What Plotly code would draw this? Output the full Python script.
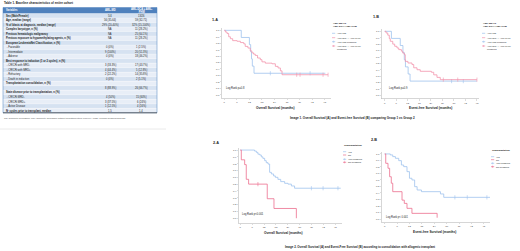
import plotly.graph_objects as go

W, H = 520, 251

# ---------------- Table data ----------------
tbl_title = "Table 1. Baseline characteristics of entire cohort"
col_headers = ["Variables", "AML-MD", "AML-DCA + AML-<br>PHM"]
row_labels = [
    "<b>Sex (Male/Female)</b>",
    "<b>Age, median (range)</b>",
    "<b>% of blasts at diagnosis, median (range)</b>",
    "<b>Complex karyotype, n (%)</b>",
    "<b>Previous hematologic malignancy</b>",
    "<b>Previous exposure to hypomethylating agents, n (%)</b>",
    "<b>European LeukemiaNet Classification, n (%)</b>",
    " - Favorable",
    " - Intermediate",
    " - Adverse",
    "<b>Best response to induction (1 or 2 cycles), n (%)</b>",
    " - CR/CRi with MRD-",
    " - CR/CRi with MRD+",
    " - Refractory",
    " - Death in induction",
    "<b>Transplantation consolidation, n (%)</b>",
    "",
    "<b>State disease prior to transplantation, n (%)</b>",
    " - CR/CRi MRD-",
    " - CR/CRi MRD+",
    " - Active Disease",
    "<b>Nº cycles prior to transplant, median</b>",
]
col_md = ["5/4", "56 (35-64)", "29% (20-40%)", "NA", "NA", "NA", "", "0 (0%)", "9 (100%)", "0 (0%)", "",
          "3 (33.3%)", "4 (44.4%)", "2 (22.2%)", "0 (0%)", "", "8 (88.9%)", "", "4 (50%)", "3 (37.5%)",
          "1 (12.5%)", "1.5"]
col_dca = ["13/26", "59 (32-71)", "32% (15-100%)", "11 (28.2%)", "25 (64.1%)", "11 (28.2%)", "", "1 (2.5%)",
           "20 (51.3%)", "18 (46.2%)", "", "17 (43.7%)", "5 (12.8%)", "14 (35.8%)", "2 (5.1%)", "",
           "26 (66.7%)", "", "15 (60%)", "6 (24%)", "4 (16%)", "1.4"]
footnote = "CR: Complete Remission; CRi: Complete Remission without hematopoietical recovery; MRD: Minimal Residual Disease"

# ---------------- KM data ----------------
# 1.A Overall survival, AML-MD vs AML-DCA + AML-PHM
os1_md_t = [0, 8.1, 12.0, 12.6, 13.0, 13.4, 14.2, 48.3]
os1_md_s = [1.0, 0.889, 0.778, 0.667, 0.556, 0.444, 0.333, 0.333]
os1_md_cens_t = [22.0, 41.0]
os1_md_cens_s = [0.333, 0.333]
os1_dca_t = [0, 0.5, 1.3, 2.1, 2.9, 4.0, 6.1, 7.7, 9.3, 10.0, 11.3, 12.4, 13.2, 14.0, 14.8, 15.9, 17.2, 18.0,
             19.6, 22.8, 24.4, 25.7, 26.8, 27.6, 49.6]
os1_dca_s = [1.0, 0.974, 0.95, 0.90, 0.87, 0.84, 0.83, 0.81, 0.79, 0.75, 0.725, 0.68, 0.65, 0.63, 0.61, 0.57,
             0.544, 0.51, 0.49, 0.48, 0.44, 0.415, 0.37, 0.31, 0.31]
os1_dca_cens_t = [34.6, 36.2, 47.2, 49.6]
os1_dca_cens_s = [0.31, 0.31, 0.31, 0.31]

# 1.B Event-free survival
efs1_md_t = [0, 3.5, 8.1, 9.5, 10.2, 10.8, 12.2, 13.2, 48.0]
efs1_md_s = [1.0, 0.889, 0.778, 0.667, 0.556, 0.444, 0.333, 0.222, 0.222]
efs1_md_cens_t = [34.8, 40.9]
efs1_md_cens_s = [0.222, 0.222]
efs1_dca_t = [0, 0.7, 1.6, 2.4, 2.9, 4.2, 5.2, 6.4, 7.3, 8.7, 9.4, 10.2, 10.7, 12.1, 14.2, 15.1, 16.8, 18.5,
              24.3, 25.5, 27.2, 28.9, 48.0]
efs1_dca_s = [1.0, 0.974, 0.94, 0.885, 0.844, 0.80, 0.766, 0.74, 0.714, 0.69, 0.66, 0.635, 0.53, 0.505, 0.48,
              0.43, 0.40, 0.375, 0.36, 0.32, 0.28, 0.245, 0.245]
efs1_dca_cens_t = [30.5, 38.0, 48.0]
efs1_dca_cens_s = [0.245, 0.245, 0.245]

# 2.A Overall survival by transplantation
os2_yes_t = [0, 7.2, 8.1, 8.9, 9.8, 10.6, 11.4, 12.3, 13.1, 14.0, 14.8, 15.7, 16.8, 17.7, 19.0, 20.4, 22.4,
             24.1, 25.8, 27.4, 50.7]
os2_yes_s = [1.0, 0.985, 0.966, 0.94, 0.927, 0.90, 0.878, 0.844, 0.815, 0.795, 0.673, 0.649, 0.62, 0.60,
             0.57, 0.537, 0.512, 0.50, 0.473, 0.44, 0.44]
os2_yes_cens_t = [35.9, 41.8, 49.3]
os2_yes_cens_s = [0.44, 0.44, 0.44]
os2_no_t = [0, 0.5, 2.2, 3.0, 4.2, 13.6, 17.0, 28.3, 28.3]
os2_no_s = [1.0, 0.857, 0.786, 0.571, 0.50, 0.286, 0.143, 0.143, 0.0]
os2_no_cens_t = [8.9]
os2_no_cens_s = [0.50]

# 2.B Event-free survival by transplantation
efs2_yes_t = [0, 2.7, 3.9, 5.2, 6.8, 8.1, 9.2, 10.8, 12.0, 13.2, 14.5, 15.7, 17.8, 27.0, 28.6, 51.2]
efs2_yes_s = [1.0, 0.985, 0.959, 0.933, 0.897, 0.83, 0.805, 0.728, 0.626, 0.60, 0.497, 0.446, 0.42, 0.385,
              0.333, 0.333]
efs2_yes_cens_t = [34.0, 40.0, 49.5]
efs2_yes_cens_s = [0.333, 0.333, 0.333]
efs2_no_t = [0, 0.5, 1.6, 2.4, 3.2, 3.9, 8.4, 9.5, 10.8, 13.2, 25.4, 25.4]
efs2_no_s = [1.0, 0.856, 0.78, 0.65, 0.55, 0.42, 0.29, 0.24, 0.164, 0.087, 0.087, 0.02]
efs2_no_cens_t = []
efs2_no_cens_s = []

x_ticks = [0, 6, 12, 18, 24, 30, 36, 42, 48]
y_ticks = [0.0, 0.1, 0.2, 0.3, 0.4, 0.5, 0.6, 0.7, 0.8, 0.9, 1.0]

BLUE = "#9FC3EE"
PINK = "#F294AC"
RED = "#EC6F8E"
FONT = "Liberation Sans"


def px_x(p):
    return p / W


def px_y(p):
    return 1 - p / H


fig = go.Figure()
ann = []
shapes = []


def text(x, y, s, size=3, bold=False, anchor="left", color="#222222"):
    ann.append(dict(x=px_x(x), y=px_y(y), xref="paper", yref="paper", text=("<b>%s</b>" % s) if bold else s,
                    showarrow=False, xanchor=anchor, yanchor="middle", borderpad=0,
                    font=dict(size=size, color=color, family=FONT)))


def rect(x0, y0, x1, y1, fill, line_color=None, lw=0):
    shapes.append(dict(type="rect", xref="paper", yref="paper", x0=px_x(x0), x1=px_x(x1),
                       y0=px_y(y1), y1=px_y(y0), fillcolor=fill, layer="below",
                       line=dict(color=line_color or fill, width=lw)))


# ---------------- Table (drawn as cells) ----------------
TX0, TX1 = 3, 157
col_edges = [3, 95, 125, 157]
HEAD_Y0, HEAD_Y1 = 7.5, 13.5
TB = 112.8
ROW_H = (TB - HEAD_Y1) / len(row_labels)
TF = 2.6
rect(TX0, HEAD_Y0, TX1, HEAD_Y1, "#4F81BD")
for j, hdr in enumerate(col_headers):
    if j == 0:
        text(col_edges[0] + 1.5, (HEAD_Y0 + HEAD_Y1) / 2, hdr, size=TF, bold=True, color="white")
    else:
        text((col_edges[j] + col_edges[j + 1]) / 2, (HEAD_Y0 + HEAD_Y1) / 2, hdr, size=TF, bold=True,
             anchor="center", color="white")
for i, lab in enumerate(row_labels):
    y0 = HEAD_Y1 + i * ROW_H
    y1 = y0 + ROW_H
    fill = "#D6E2F1" if i % 2 == 0 else "#E8EEF7"
    rect(TX0, y0, TX1, y1, fill)
    shapes.append(dict(type="line", xref="paper", yref="paper", x0=px_x(TX0), x1=px_x(TX1),
                       y0=px_y(y1), y1=px_y(y1), line=dict(color="#FFFFFF", width=0.3)))
    yc = (y0 + y1) / 2
    text(col_edges[0] + 1.5, yc, lab, size=TF)
    text((col_edges[1] + col_edges[2]) / 2, yc, col_md[i], size=TF, anchor="center")
    text((col_edges[2] + col_edges[3]) / 2, yc, col_dca[i], size=TF, anchor="center")
shapes.append(dict(type="rect", xref="paper", yref="paper", x0=px_x(TX0), x1=px_x(TX1),
                   y0=px_y(TB), y1=px_y(HEAD_Y0), line=dict(color="#4F81BD", width=0.5)))
shapes.append(dict(type="line", xref="paper", yref="paper", x0=px_x(TX0), x1=px_x(TX1),
                   y0=px_y(TB), y1=px_y(TB), line=dict(color="#333333", width=0.7)))

# ---------------- KM subplots ----------------
panels = [
    dict(ax="", px=(222, 331), py=(28.4, 97.9), xr=[-1.1, 51.0], yr=[-0.05, 1.03],
         curves=[(os1_md_t, os1_md_s, os1_md_cens_t, os1_md_cens_s, BLUE),
                 (os1_dca_t, os1_dca_s, os1_dca_cens_t, os1_dca_cens_s, PINK)]),
    dict(ax="2", px=(382, 478.5), py=(29.4, 98.5), xr=[-1.4, 48.8], yr=[-0.05, 1.03],
         curves=[(efs1_md_t, efs1_md_s, efs1_md_cens_t, efs1_md_cens_s, BLUE),
                 (efs1_dca_t, efs1_dca_s, efs1_dca_cens_t, efs1_dca_cens_s, PINK)]),
    dict(ax="3", px=(239, 341.7), py=(148, 223), xr=[-0.66, 51.2], yr=[-0.07, 1.03],
         curves=[(os2_yes_t, os2_yes_s, os2_yes_cens_t, os2_yes_cens_s, BLUE),
                 (os2_no_t, os2_no_s, os2_no_cens_t, os2_no_cens_s, RED)]),
    dict(ax="4", px=(382, 490), py=(152, 222), xr=[-1.3, 51.0], yr=[-0.046, 1.03],
         curves=[(efs2_yes_t, efs2_yes_s, efs2_yes_cens_t, efs2_yes_cens_s, BLUE),
                 (efs2_no_t, efs2_no_s, efs2_no_cens_t, efs2_no_cens_s, RED)]),
]

layout_axes = {}
for p in panels:
    xa = "x" + p["ax"]
    ya = "y" + p["ax"]
    for (t, s, ct, cs, col) in p["curves"]:
        fig.add_trace(go.Scatter(x=t, y=s, mode="lines", line=dict(color=col, width=0.8, shape="hv"),
                                 xaxis=xa, yaxis=ya, showlegend=False, hoverinfo="skip"))
        if ct:
            fig.add_trace(go.Scatter(x=ct, y=cs, mode="markers",
                                     marker=dict(symbol="line-ns", size=3, line=dict(color=col, width=0.6)),
                                     xaxis=xa, yaxis=ya, showlegend=False, hoverinfo="skip"))
    common = dict(showgrid=False, zeroline=False, showline=True, linecolor="#BBBBBB", linewidth=0.6,
                  ticks="outside", ticklen=1.5, tickwidth=0.5, tickcolor="#BBBBBB",
                  tickfont=dict(size=2.5, color="#444444", family=FONT))
    layout_axes["xaxis" + p["ax"]] = dict(domain=[px_x(p["px"][0]), px_x(p["px"][1])], range=p["xr"],
                                          tickvals=x_ticks, anchor=ya, **common)
    layout_axes["yaxis" + p["ax"]] = dict(domain=[px_y(p["py"][1]), px_y(p["py"][0])], range=p["yr"],
                                          tickvals=y_ticks, tickformat=".1f", anchor=xa, **common)

fig.update_layout(**layout_axes)

text(3, 3, tbl_title, size=3.0, bold=True)
text(3, 118.5, footnote, size=2.3, color="#555555")
shapes.append(dict(type="line", xref="paper", yref="paper", x0=0, x1=px_x(166), y0=px_y(129), y1=px_y(129),
                   line=dict(color="#E4E4E4", width=0.8)))

text(211, 20, "1.A", size=3.8, bold=True)
text(372, 17, "1.B", size=3.8, bold=True)
text(212, 143, "2.A", size=3.8, bold=True)
text(370, 140, "2.B", size=3.8, bold=True)

text(275, 107.5, "Overall Survival (months)", size=3.2, bold=True, anchor="center")
text(430, 107.5, "Event-free Survival (months)", size=3.2, bold=True, anchor="center")
text(283, 233, "Overall Survival (months)", size=3.2, bold=True, anchor="center")
text(434, 231.5, "Event-free Survival (months)", size=3.2, bold=True, anchor="center")

text(225, 88, "Log Rank p=0.8", size=2.6)
text(388, 88, "Log Rank p=0.9", size=2.6)
text(241, 214, "Log Rank p<0.001", size=2.6)
text(385, 217, "Log Rank p< 0.001", size=2.6)

text(352.5, 118, "Image 1. Overall Survival (A) and Event-free Survival (B) comparing Group 1 vs Group 2",
     size=3.0, bold=True, anchor="center")
text(359.5, 247.3, "Image 2. Overall Survival (A) and Event-Free Survival (B) according to consolidation with allogenic transplant",
     size=2.9, bold=True, anchor="center")


def legend(x, y_title, title_lines, items, item_ys):
    for i, tl in enumerate(title_lines):
        text(x, y_title + i * 2.8, tl, size=2.4, bold=True)
    for (lab, col, cens), yy in zip(items, item_ys):
        shapes.append(dict(type="line", xref="paper", yref="paper", x0=px_x(x), x1=px_x(x + 3.2),
                           y0=px_y(yy), y1=px_y(yy), line=dict(color=col, width=0.7)))
        if cens:
            shapes.append(dict(type="line", xref="paper", yref="paper", x0=px_x(x + 1.6), x1=px_x(x + 1.6),
                               y0=px_y(yy - 1), y1=px_y(yy + 1), line=dict(color=col, width=0.6)))
        lines = lab.split("\n")
        for j, ln in enumerate(lines):
            text(x + 4.2, yy + j * 2.8, ln, size=2.3)


legend(332, 23.3, ["AML-MD vs", "AML-DCA+AML-PHM"],
       [("AML-MD", BLUE, False), ("AML-DCA + AML-PHM", PINK, False), ("AML-MD-censored", BLUE, True),
        ("AML-DCA + AML-PHM-\ncensored", PINK, True)], [33.3, 37.7, 41.7, 46])
legend(482, 23.3, ["AML-MD vs", "AML-DCA+AML-PHM"],
       [("AML-MD", BLUE, False), ("AML-DCA + AML-PHM", PINK, False), ("AML-MD-censored", BLUE, True),
        ("AML-DCA + AML-PHM-\ncensored", PINK, True)], [33.3, 37.7, 41.7, 46])
legend(343, 145, ["Transplantation"],
       [("Yes", BLUE, False), ("No", RED, False), ("Yes-censored", BLUE, True), ("No-censored", RED, True)],
       [151.7, 155, 159.3, 162.3])
legend(491, 150, ["Transplantation"],
       [("Yes", BLUE, False), ("No", RED, False), ("Yes-censored", BLUE, True), ("No-censored", RED, True)],
       [156.7, 159.7, 163.3, 166.7])

fig.update_layout(width=W, height=H, margin=dict(l=0, r=0, t=0, b=0), paper_bgcolor="white",
                  plot_bgcolor="white", annotations=ann, shapes=shapes, showlegend=False)

# remove the browser's default page margin so the 520x251 figure sits at the window origin,
# and hide the hover mode bar
fig.write_html("out.html",
               config={"displayModeBar": False, "staticPlot": True},
               post_script="document.body.style.margin='0px';document.body.style.padding='0px';"
                           "document.documentElement.style.overflow='hidden';")
